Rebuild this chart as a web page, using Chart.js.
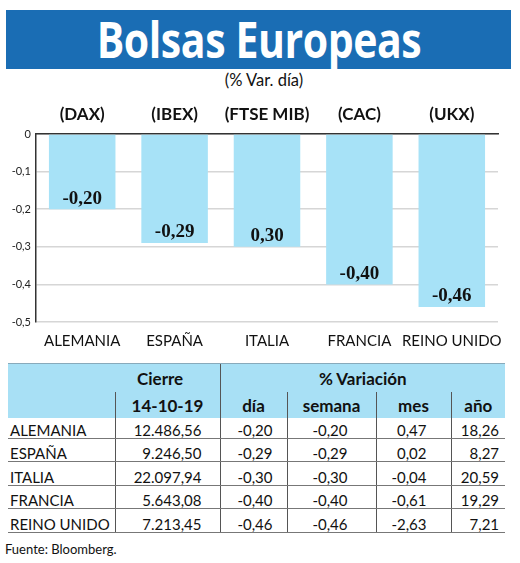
<!DOCTYPE html>
<html lang="es">
<head>
    <meta charset="UTF-8">
    <title>Bolsas Europeas</title>
    <script src="https://cdn.jsdelivr.net/npm/chart.js"></script>
    <style>
        body { margin: 0; width: 520px; height: 563px; background: #fff; position: relative; overflow: hidden;
               font-family: Lato, sans-serif; color: #111; }
        #banner { position: absolute; left: 6px; top: 10px; width: 505px; height: 59px; background: #1a6db4;
                  text-align: center; overflow: hidden; }
        #banner span { display: inline-block; color: #fff; font: bold 50px "Open Sans", sans-serif;
                       line-height: 59px; transform: scaleX(0.82); letter-spacing: -0.5px; }
        #sub { position: absolute; left: 0; width: 528px; top: 70px; text-align: center; font-size: 16.5px; }
        #wrap { position: absolute; left: 0; top: 98px; width: 510px; height: 264px; }
        table { position: absolute; left: 8px; top: 363px; width: 497px; border-collapse: collapse; table-layout: fixed; }
        th { background: #a8e0f5; font-weight: bold; font-size: 17px; padding: 0; white-space: nowrap; }
        tr.h1 th { height: 28px; border-top: 1px solid #8ab; }
        tr.h2 th { height: 26px; }
        td { height: 21.6px; padding: 0 4px 1px 4px; font-size: 15px; border-bottom: 1px solid #777; text-align: right;
             white-space: nowrap; line-height: 14px; vertical-align: bottom; }
        tr.r0 td { height: 18.6px; }
        td:first-child { text-align: left; padding-left: 2px; }
        .vl { border-left: 1px solid #555; }
        #src { position: absolute; left: 5px; top: 541px; font-size: 13px; }
    </style>
</head>
<body>
    <div id="banner"><span>Bolsas Europeas</span></div>
    <div id="sub">(% Var. día)</div>
    <div id="wrap"><canvas id="myChart"></canvas></div>
    <table id="tbl"></table>
    <div id="src">Fuente: Bloomberg.</div>

    <script>
        // datos del grafico
        const categories = ['ALEMANIA', 'ESPAÑA', 'ITALIA', 'FRANCIA', 'REINO UNIDO'];
        const indexCodes = ['(DAX)', '(IBEX)', '(FTSE MIB)', '(CAC)', '(UKX)'];
        const dayChange = [-0.20, -0.29, -0.30, -0.40, -0.46];
        const barLabels = ['-0,20', '-0,29', '0,30', '-0,40', '-0,46'];

        // datos de la tabla
        const closeDate = '14-10-19';
        const closeValues = ['12.486,56', '9.246,50', '22.097,94', '5.643,08', '7.213,45'];
        const varDay = ['-0,20', '-0,29', '-0,30', '-0,40', '-0,46'];
        const varWeek = ['-0,20', '-0,29', '-0,30', '-0,40', '-0,46'];
        const varMonth = ['0,47', '0,02', '-0,04', '-0,61', '-2,63'];
        const varYear = ['18,26', '8,27', '20,59', '19,29', '7,21'];

        // tabla
        let html = '<colgroup><col style="width:107px"><col style="width:105px"><col style="width:67px">' +
                   '<col style="width:89px"><col style="width:75px"><col style="width:54px"></colgroup>';
        html += '<tr class="h1"><th></th><th style="text-align:left;padding-left:22px">Cierre</th>' +
                '<th colspan="4" class="vl">% Variación</th></tr>';
        html += '<tr class="h2"><th></th><th class="vl">' + closeDate + '</th><th class="vl">día</th>' +
                '<th class="vl">semana</th><th class="vl">mes</th><th class="vl">año</th></tr>';
        categories.forEach((c, i) => {
            html += '<tr class="r' + i + '"><td>' + c + '</td><td class="vl" style="padding-right:18px">' + closeValues[i] + '</td>' +
                    '<td class="vl" style="padding-right:14px">' + varDay[i] + '</td>' +
                    '<td class="vl" style="padding-right:28px">' + varWeek[i] + '</td>' +
                    '<td class="vl" style="padding-right:24px">' + varMonth[i] + '</td>' +
                    '<td class="vl" style="padding-right:6px">' + varYear[i] + '</td></tr>';
        });
        document.getElementById('tbl').innerHTML = html;

        // etiquetas dentro de las barras
        const barLabelPlugin = {
            id: 'barLabels',
            afterDatasetsDraw(chart) {
                const ctx = chart.ctx;
                ctx.save();
                ctx.font = 'bold 19px "Liberation Serif", serif';
                ctx.fillStyle = '#111';
                ctx.textAlign = 'center';
                ctx.textBaseline = 'bottom';
                chart.getDatasetMeta(0).data.forEach((bar, i) => {
                    ctx.fillText(barLabels[i], bar.x, bar.y - 1);
                });
                ctx.restore();
            }
        };

        const ctx = document.getElementById('myChart').getContext('2d');
        const myChart = new Chart(ctx, {
            type: 'bar',
            data: {
                labels: categories,
                datasets: [{
                    data: dayChange,
                    backgroundColor: '#a7e2f7',
                    categoryPercentage: 1,
                    barPercentage: 0.72
                }]
            },
            plugins: [barLabelPlugin],
            options: {
                responsive: true,
                maintainAspectRatio: false,
                animation: false,
                layout: { padding: { right: 12, left: 0, top: 0, bottom: 0 } },
                plugins: { legend: { display: false }, tooltip: { enabled: false } },
                scales: {
                    xTop: {
                        type: 'category',
                        labels: indexCodes,
                        position: 'top',
                        grid: { display: false },
                        border: { color: '#333', width: 1.5 },
                        ticks: { color: '#111', padding: 1, maxRotation: 0, minRotation: 0, autoSkip: false,
                                 font: { family: 'Lato', size: 17, weight: 'bold' } },
                        afterFit(s) { s.height = 36; }
                    },
                    x: {
                        grid: { display: false },
                        border: { display: false },
                        ticks: { color: '#111', padding: 2, maxRotation: 0, minRotation: 0, autoSkip: false,
                                 font: { family: 'Lato', size: 15 } },
                        afterFit(s) { s.height = 40; }
                    },
                    y: {
                        min: -0.5,
                        max: 0,
                        ticks: {
                            stepSize: 0.1,
                            color: '#222',
                            padding: 5,
                            font: { family: 'Lato', size: 11 },
                            callback: v => v === 0 ? '0' : v.toFixed(1).replace('.', ',')
                        },
                        grid: { color: '#d6d6d6', lineWidth: 1.5, drawTicks: false },
                        border: { color: '#333', width: 1.5 },
                        afterFit(s) { s.width = 36; }
                    }
                }
            }
        });
    </script>
</body>
</html>
